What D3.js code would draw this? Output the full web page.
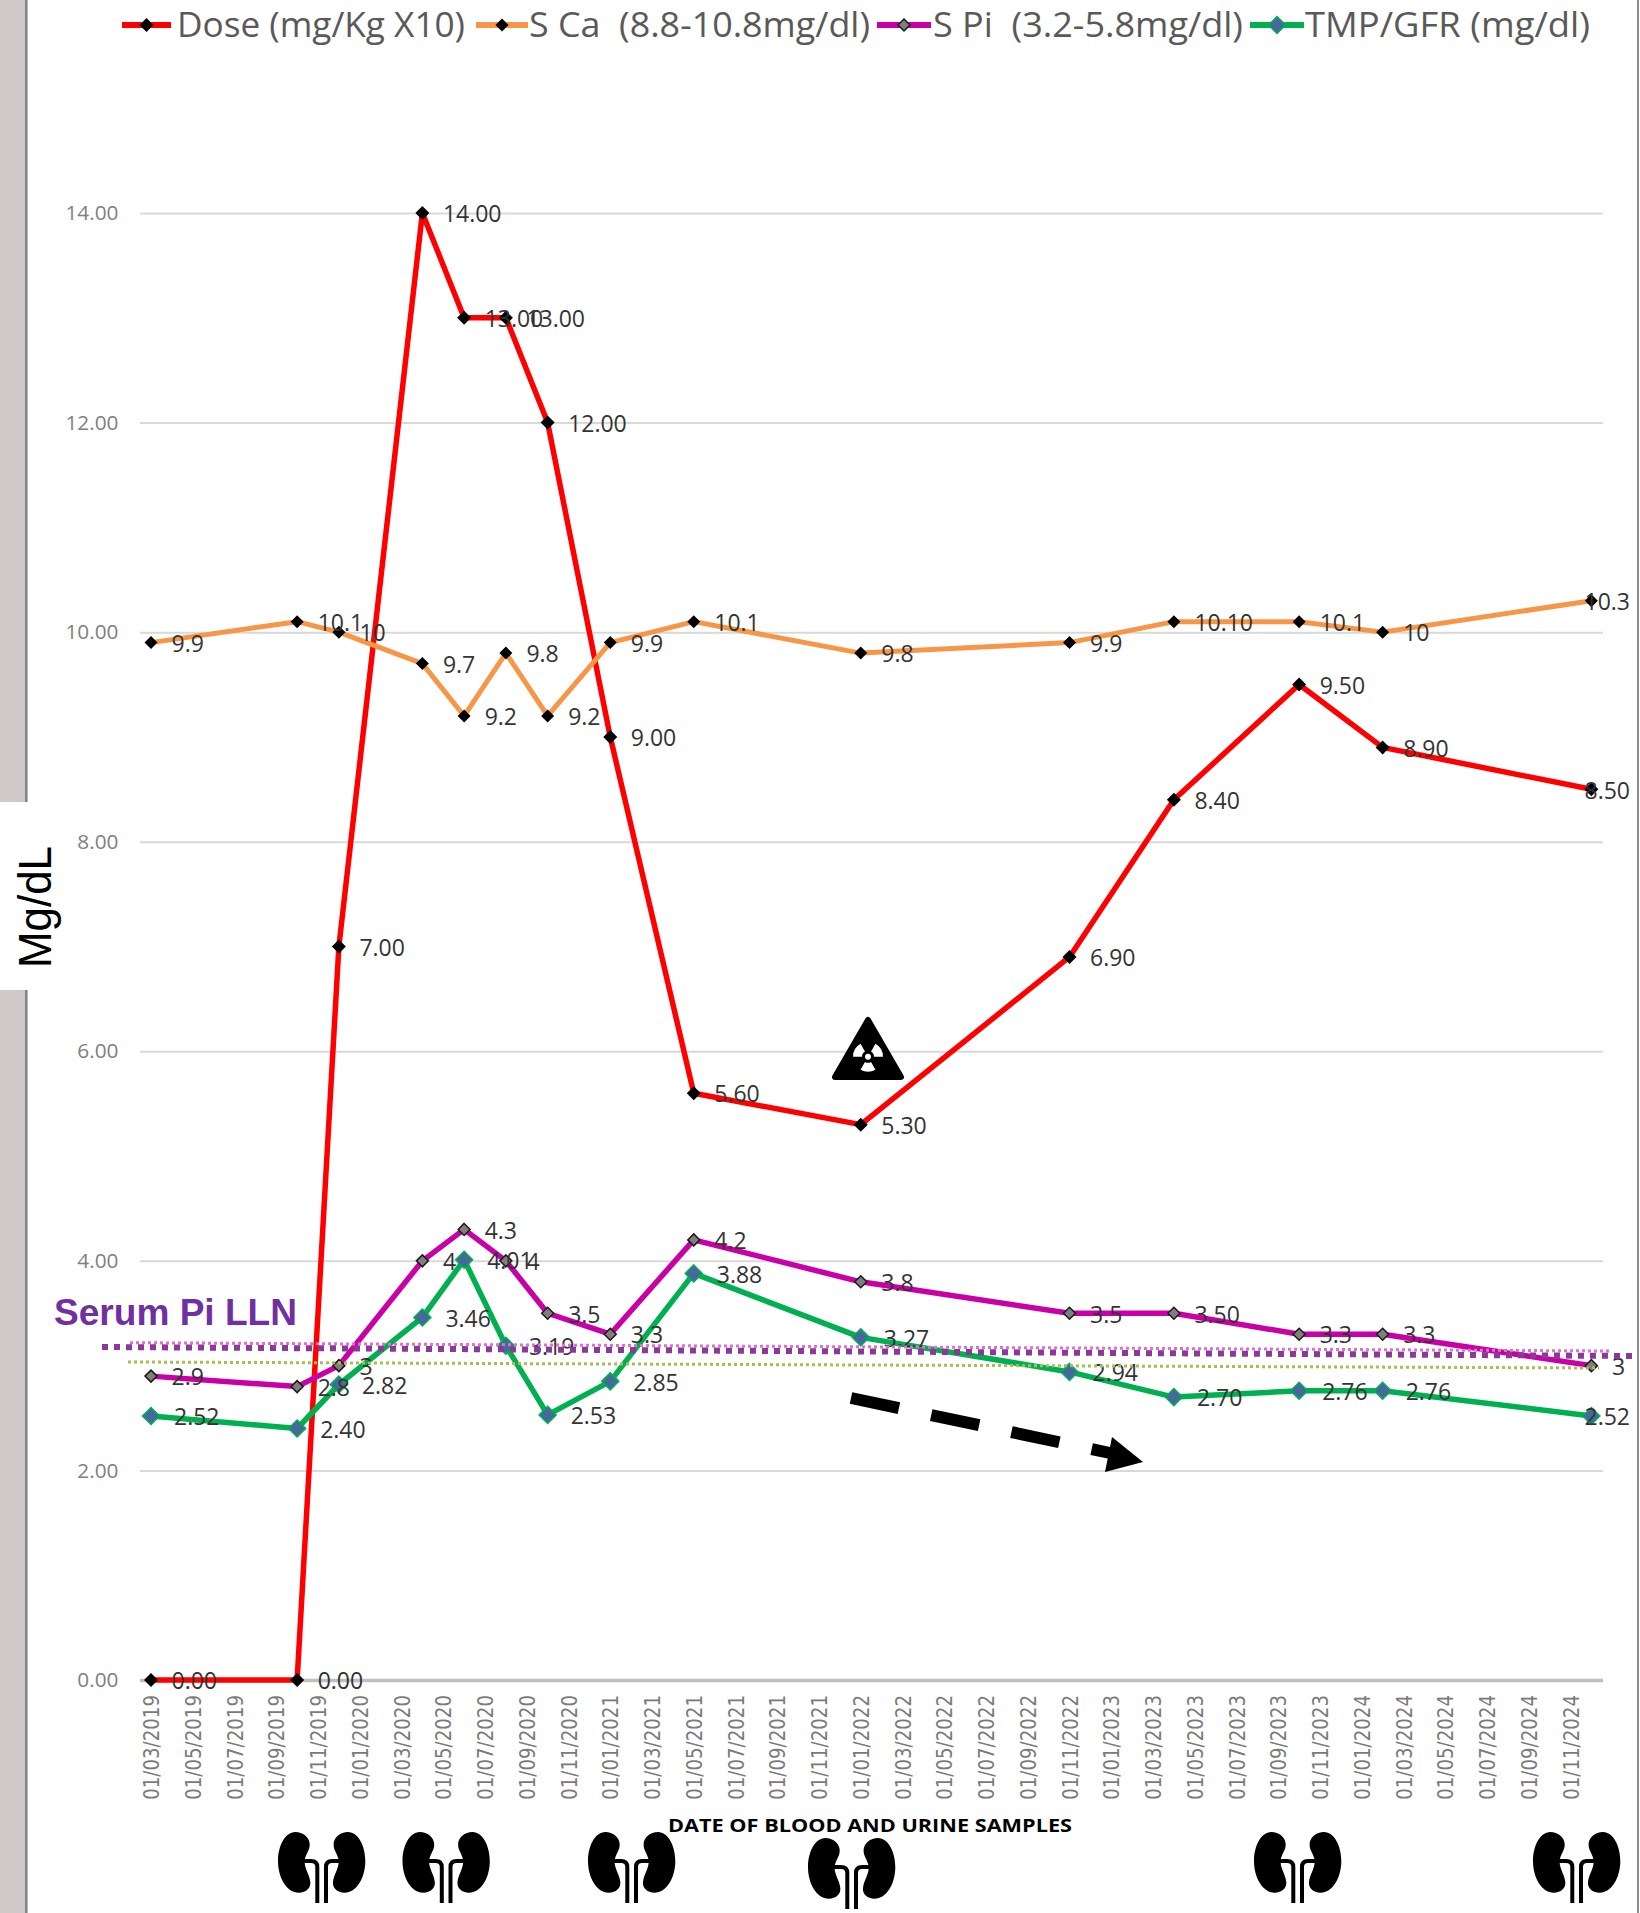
<!DOCTYPE html>
<html>
<head>
<meta charset="utf-8">
<script src="https://cdn.jsdelivr.net/npm/d3@7"></script>
<style>
  html, body { margin: 0; padding: 0; background: #fff; }
  svg { display: block; }
  text { font-family: "Open Sans", sans-serif; white-space: pre; }
</style>
</head>
<body>
<svg id="chart" width="1640" height="1913"></svg>
<script>
// Sampling dates (dd/mm/yyyy) shared by all four series
const sampleDates = ["01/03/2019","01/10/2019","01/12/2019","01/04/2020","01/06/2020","01/08/2020","01/10/2020","01/01/2021","01/05/2021","01/01/2022","01/11/2022","01/04/2023","01/10/2023","01/02/2024","01/12/2024"];

const doseValues = [0, 0, 7, 14, 13, 13, 12, 9, 5.6, 5.3, 6.9, 8.4, 9.5, 8.9, 8.5];
const doseLabels = ["0.00","0.00","7.00","14.00","13.00","13.00","12.00","9.00","5.60","5.30","6.90","8.40","9.50","8.90","8.50"];

const calciumValues = [9.9, 10.1, 10, 9.7, 9.2, 9.8, 9.2, 9.9, 10.1, 9.8, 9.9, 10.1, 10.1, 10, 10.3];
const calciumLabels = ["9.9","10.1","10","9.7","9.2","9.8","9.2","9.9","10.1","9.8","9.9","10.10","10.1","10","10.3"];

const phosphateValues = [2.9, 2.8, 3, 4, 4.3, 4, 3.5, 3.3, 4.2, 3.8, 3.5, 3.5, 3.3, 3.3, 3];
const phosphateLabels = ["2.9","2.8","3","4","4.3","4","3.5","3.3","4.2","3.8","3.5","3.50","3.3","3.3","3"];

const tmpGfrValues = [2.52, 2.4, 2.82, 3.46, 4.01, 3.19, 2.53, 2.85, 3.88, 3.27, 2.94, 2.7, 2.76, 2.76, 2.52];
const tmpGfrLabels = ["2.52","2.40","2.82","3.46","4.01","3.19","2.53","2.85","3.88","3.27","2.94","2.70","2.76","2.76","2.52"];

const yTickValues = [0, 2, 4, 6, 8, 10, 12, 14];
const xTickLabels = ["01/03/2019","01/05/2019","01/07/2019","01/09/2019","01/11/2019","01/01/2020","01/03/2020","01/05/2020","01/07/2020","01/09/2020","01/11/2020","01/01/2021","01/03/2021","01/05/2021","01/07/2021","01/09/2021","01/11/2021","01/01/2022","01/03/2022","01/05/2022","01/07/2022","01/09/2022","01/11/2022","01/01/2023","01/03/2023","01/05/2023","01/07/2023","01/09/2023","01/11/2023","01/01/2024","01/03/2024","01/05/2024","01/07/2024","01/09/2024","01/11/2024"];

const seriesNames = ["Dose (mg/Kg X10)", "S Ca  (8.8-10.8mg/dl)", "S Pi  (3.2-5.8mg/dl)", "TMP/GFR (mg/dl)"];

// Months elapsed since the first sample, so the date axis has even month widths
const monthIndex = s => {
  const [, m, y] = s.split("/").map(Number);
  return (y - 2019) * 12 + (m - 3);
};

const svg = d3.select("#chart");
const x = d3.scaleLinear().domain([0, 68]).range([151, 1570.5]);
const y = d3.scaleLinear().domain([0, 14]).range([1680, 213]);
const gridLeft = 140, gridRight = 1603, labelLimit = 1630;

// Page furniture: side band and frame line
svg.append("rect").attr("x", 0).attr("y", 0).attr("width", 25).attr("height", 1913).attr("fill", "#cfc8c9");
svg.append("line").attr("x1", 26.3).attr("x2", 26.3).attr("y1", 0).attr("y2", 1913).attr("stroke", "#808080").attr("stroke-width", 2.5);
svg.append("line").attr("x1", 1638).attr("x2", 1638).attr("y1", 0).attr("y2", 1913).attr("stroke", "#8c8c8c").attr("stroke-width", 2);
svg.append("rect").attr("x", 0).attr("y", 802).attr("width", 28).attr("height", 188).attr("fill", "#fff");

// Horizontal gridlines and value axis
const yAxis = svg.append("g")
  .attr("transform", `translate(${gridLeft},0)`)
  .call(d3.axisLeft(y).tickValues(yTickValues).tickFormat(d3.format(".2f")).tickSize(-(gridRight - gridLeft)).tickPadding(21.5));
yAxis.select(".domain").remove();
yAxis.selectAll(".tick line")
  .attr("stroke", d => d === 0 ? "#bfbfbf" : "#d9d9d9")
  .attr("stroke-width", d => d === 0 ? 3.5 : 2);
yAxis.selectAll(".tick text")
  .attr("fill", "#7f7f7f").style("font-size", "20.8px").style("font-family", '"Open Sans", sans-serif');

// Date axis with upright labels
const xAxis = svg.append("g")
  .attr("transform", "translate(0,1680)")
  .call(d3.axisBottom(x).tickValues(xTickLabels.map(monthIndex))
    .tickFormat((d, i) => xTickLabels[i]).tickSize(0));
xAxis.select(".domain").remove();
xAxis.selectAll(".tick text")
  .attr("fill", "#7a7a7a")
  .attr("text-anchor", "end")
  .attr("y", 0).attr("dy", 0)
  .attr("transform", "translate(7.5,15) rotate(-90) scale(1,1.12)")
  .style("font-size", "18.2px")
  .style("font-family", '"DejaVu Sans", sans-serif');

svg.append("text").attr("x", 668).attr("y", 1832)
  .attr("textLength", 404).attr("lengthAdjust", "spacingAndGlyphs")
  .style("font-family", '"Open Sans", sans-serif').style("font-weight", 700).style("font-size", "18px")
  .attr("fill", "#000").text("DATE OF BLOOD AND URINE SAMPLES");

svg.append("text").attr("transform", "translate(51,968) rotate(-90)")
  .attr("textLength", 122).attr("lengthAdjust", "spacingAndGlyphs")
  .style("font-family", '"Liberation Sans", sans-serif').style("font-size", "47px")
  .attr("fill", "#000").text("Mg/dL");

// The four series, each with its line, markers and value labels
const series = [
  { values: doseValues, labels: doseLabels, color: "#ff0000", width: 5.5, size: 14, fill: "#000", edge: "#000", edgeWidth: 0, gap: 20.5 },
  { values: calciumValues, labels: calciumLabels, color: "#f79646", width: 5, size: 13, fill: "#000", edge: "#000", edgeWidth: 0, gap: 20.5 },
  { values: phosphateValues, labels: phosphateLabels, color: "#c800a6", width: 5.5, size: 12, fill: "#7f7f7f", edge: "#1a1a1a", edgeWidth: 1.5, gap: 20.5 },
  { values: tmpGfrValues, labels: tmpGfrLabels, color: "#00b050", width: 5.5, size: 17, fill: "#44699b", edge: "#00b050", edgeWidth: 1.5, gap: 23 }
];
const times = sampleDates.map(monthIndex);
const diamondPath = s => `M0,${-s / 2}L${s / 2},0L0,${s / 2}L${-s / 2},0Z`;
const lineGen = d3.line().x(d => x(d.t)).y(d => y(d.v));

series.forEach(s => {
  s.points = s.values.map((v, i) => ({ t: times[i], v, label: s.labels[i] }));
  svg.append("path").datum(s.points)
    .attr("d", lineGen).attr("fill", "none")
    .attr("stroke", s.color).attr("stroke-width", s.width).attr("stroke-linejoin", "round");
  svg.append("g").selectAll("path").data(s.points).join("path")
    .attr("transform", d => `translate(${x(d.t)},${y(d.v)})`)
    .attr("d", diamondPath(s.size))
    .attr("fill", s.fill).attr("stroke", s.edge).attr("stroke-width", s.edgeWidth);
});

series.forEach(s => {
  svg.append("g").selectAll("text").data(s.points).join("text")
    .attr("y", d => y(d.v) + 1)
    .attr("dy", "0.36em")
    .attr("fill", "#333")
    .style("font-size", "23px")
    .text(d => d.label)
    .attr("x", function (d) {
      // Keep value labels inside the plot frame on the right
      const wanted = x(d.t) + s.gap, len = this.getComputedTextLength();
      return wanted + len > labelLimit ? labelLimit - len : wanted;
    });
});

// Reference levels near the lower limit of normal serum phosphate
const refLines = [
  { x1: 130, y1: 1342.7, x2: 1610, y2: 1351, color: "#e070d0", w: 3, dash: "3 3" },
  { x1: 102, y1: 1347, x2: 1634, y2: 1356, color: "#8a3a96", w: 6, dash: "6 6" },
  { x1: 128, y1: 1362, x2: 1599, y2: 1368, color: "#a5c050", w: 3, dash: "3 3" }
];
svg.append("g").selectAll("line").data(refLines).join("line")
  .attr("x1", d => d.x1).attr("y1", d => d.y1).attr("x2", d => d.x2).attr("y2", d => d.y2)
  .attr("stroke", d => d.color).attr("stroke-width", d => d.w).attr("stroke-dasharray", d => d.dash);

svg.append("text").attr("x", 54).attr("y", 1325)
  .attr("textLength", 243).attr("lengthAdjust", "spacingAndGlyphs")
  .style("font-family", '"Liberation Sans", sans-serif').style("font-weight", 700).style("font-size", "36px")
  .attr("fill", "#7030a0").text("Serum Pi LLN");

// Dashed downward trend arrow
svg.append("line").attr("x1", 851).attr("y1", 1398).attr("x2", 1110).attr("y2", 1453)
  .attr("stroke", "#000").attr("stroke-width", 12).attr("stroke-dasharray", "49 33");
svg.append("polygon").attr("points", "1143,1462 1112,1437 1105,1472").attr("fill", "#000");

// Radiation hazard sign
const hazard = svg.append("g");
hazard.append("path").attr("d", "M868,1020L901,1077L835,1077Z")
  .attr("fill", "#000").attr("stroke", "#000").attr("stroke-width", 6).attr("stroke-linejoin", "round");
const bladeArc = d3.arc().innerRadius(6).outerRadius(15);
const blades = [[-Math.PI / 2, -Math.PI / 6], [Math.PI / 6, Math.PI / 2], [5 * Math.PI / 6, 7 * Math.PI / 6]];
hazard.selectAll("path.blade").data(blades).join("path").attr("class", "blade")
  .attr("transform", "translate(868,1056.7)")
  .attr("d", d => bladeArc({ startAngle: d[0], endAngle: d[1] }))
  .attr("fill", "#fff");
hazard.append("circle").attr("cx", 868).attr("cy", 1056.7).attr("r", 3).attr("fill", "#fff");

// Kidney pictograms marking renal assessments
const kidneySpots = [[278, 1832], [402.5, 1832], [588, 1832], [808, 1838], [1254, 1832], [1533, 1832]];
const kidneyPath = "M17.3 0C7 0 0 14 0 29C0 46 9 60.7 20.7 60.7C28 60.7 33 56 32.3 50C31.5 42 26 36 26.7 29C27 22 32 19 31.7 12C31.3 5 25 0 17.3 0Z";
const kidney = svg.append("g").selectAll("g").data(kidneySpots).join("g")
  .attr("transform", d => `translate(${d[0]},${d[1]})`);
kidney.append("path").attr("d", kidneyPath).attr("fill", "#000");
kidney.append("path").attr("d", kidneyPath).attr("fill", "#000").attr("transform", "translate(87.3,0) scale(-1,1)");
kidney.append("path").attr("d", "M26 29H33Q39.3 29 39.3 35V71").attr("fill", "none").attr("stroke", "#000").attr("stroke-width", 4);
kidney.append("path").attr("d", "M61 29H54Q48 29 48 35V71").attr("fill", "none").attr("stroke", "#000").attr("stroke-width", 4);

// Legend row
const legendSpots = [
  { key: [122, 171], tx: 177, tw: 288 },
  { key: [476, 528], tx: 529, tw: 341 },
  { key: [877, 931], tx: 933, tw: 310 },
  { key: [1250, 1304], tx: 1305, tw: 285 }
];
const legend = svg.append("g").selectAll("g").data(series).join("g");
legend.append("line")
  .attr("x1", (d, i) => legendSpots[i].key[0]).attr("x2", (d, i) => legendSpots[i].key[1])
  .attr("y1", 25).attr("y2", 25).attr("stroke", d => d.color).attr("stroke-width", 6);
legend.append("path")
  .attr("transform", (d, i) => `translate(${(legendSpots[i].key[0] + legendSpots[i].key[1]) / 2},25)`)
  .attr("d", d => diamondPath(d.size))
  .attr("fill", d => d.fill).attr("stroke", d => d.edge).attr("stroke-width", d => d.edgeWidth);
legend.append("text")
  .attr("x", (d, i) => legendSpots[i].tx).attr("y", 37)
  .attr("textLength", (d, i) => legendSpots[i].tw).attr("lengthAdjust", "spacingAndGlyphs")
  .attr("fill", "#595959").style("font-size", "34px")
  .text((d, i) => seriesNames[i]);
</script>
</body>
</html>
